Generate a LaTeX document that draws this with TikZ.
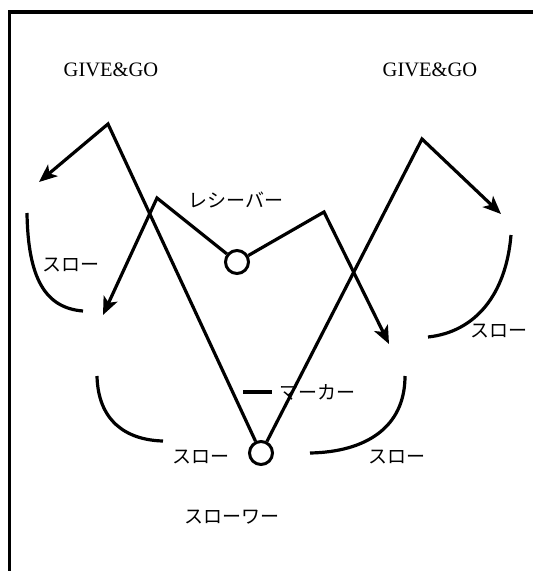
\documentclass[tikz,border=0pt]{standalone}
\usepackage{fontspec}
\setmainfont{Liberation Serif}
\newfontfamily\jp{Noto Sans CJK JP}
\usetikzlibrary{arrows.meta}
\begin{document}
\begin{tikzpicture}[x=1pt,y=-1pt,
  ln/.style={line width=3.2pt},
  arr/.style={ln,line join=miter,-{Stealth[length=18pt,width=15pt,inset=4.5pt]}},
  player/.style={circle,draw,line width=3pt,minimum size=23pt,inner sep=0pt},
  jlab/.style={font=\jp\fontsize{19}{19}\selectfont,inner sep=0pt},
  elab/.style={font=\fontsize{20.5}{20.5}\selectfont,inner sep=0pt}]
\useasboundingbox (0,0) rectangle (533,571);
% frame
\draw[line width=3.5pt] (9.5,571) -- (9.5,12) -- (533,12);
% players
\node[player] (rec) at (237,262) {};
\node[player] (thr) at (261,453) {};
% coordinates
\coordinate (a1) at (108,124);
\coordinate (t1) at (39,182);
\coordinate (a2) at (157,198);
\coordinate (t2) at (103,315);
\coordinate (a3) at (324,212);
\coordinate (t3) at (389,344);
\coordinate (a4) at (422,139);
\coordinate (t4) at (501,214);
% paths
\draw[arr] (thr) -- (a1) -- (t1);
\draw[arr] (thr) -- (a4) -- (t4);
\draw[arr] (rec) -- (a2) -- (t2);
\draw[arr] (rec) -- (a3) -- (t3);
% arcs
\draw[ln] (27,213) .. controls (28,278) and (45,308) .. (83,311);
\draw[ln] (511,235) .. controls (506,295) and (475,332) .. (428,337);
\draw[ln] (97,376) .. controls (98,420) and (125,440) .. (163,441);
\draw[ln] (405,376) .. controls (405,428) and (365,452) .. (310,453);
% marker bar
\draw[line width=3.5pt] (243,392) -- (272,392);
% labels
\node[elab] (gl) at (111,70) {GIVE\&GO};
\node[elab] (gr) at (430,70) {GIVE\&GO};
\node[jlab] (lrec) at (236,200) {レシーバー};
\node[jlab] (ls1) at (71,265) {スロー};
\node[jlab] (ls2) at (499,331) {スロー};
\node[jlab] (lmk) at (317,392) {マーカー};
\node[jlab] (ls3) at (201,457) {スロー};
\node[jlab] (ls4) at (397,457) {スロー};
\node[jlab] (lthr) at (232,517) {スローワー};
\end{tikzpicture}
\end{document}
